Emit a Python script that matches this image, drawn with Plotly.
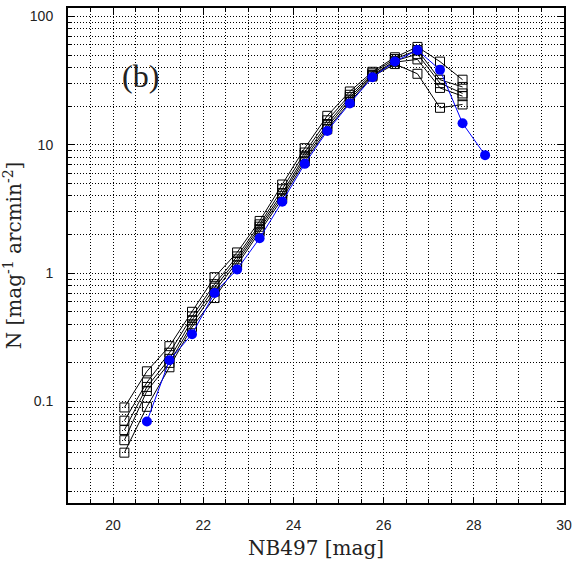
import plotly.graph_objects as go

# magnitude bins (bin centres)
mag_black = [20.25, 20.75, 21.25, 21.75, 22.25, 22.75, 23.25, 23.75,
             24.25, 24.75, 25.25, 25.75, 26.25, 26.75, 27.25, 27.75]
mag_blue = [20.75, 21.25, 21.75, 22.25, 22.75, 23.25, 23.75, 24.25,
            24.75, 25.25, 25.75, 26.25, 26.75, 27.25, 27.75, 28.25]

# black open-square series (individual fields)
field_a = [0.090, 0.172, 0.27, 0.50, 0.93, 1.45, 2.55, 4.9, 9.4, 16.8, 26.0, 37.0, 48.0, 57.8, 44.4, 32.1]
field_b = [0.071, 0.141, 0.24, 0.46, 0.82, 1.35, 2.40, 4.5, 8.7, 15.5, 24.5, 36.0, 46.5, 54.6, 32.1, 28.2]
field_c = [0.060, 0.130, 0.215, 0.43, 0.77, 1.28, 2.30, 4.2, 8.2, 14.5, 23.5, 35.0, 45.0, 50.8, 30.2, 25.1]
field_d = [0.050, 0.121, 0.20, 0.40, 0.72, 1.22, 2.20, 4.0, 7.8, 13.8, 22.5, 34.5, 44.0, 46.2, 27.7, 23.9]
field_e = [0.040, 0.091, 0.185, 0.38, 0.64, 1.15, 2.10, 3.8, 7.4, 13.2, 21.5, 34.0, 42.5, 35.7, 19.4, 20.6]
fields = [field_a, field_b, field_c, field_d, field_e]

# blue filled-circle series
blue_counts = [0.070, 0.21, 0.335, 0.70, 1.07, 1.87, 3.6, 7.1, 12.8, 21.0, 33.5, 44.5, 54.6, 38.3, 14.7, 8.3]

x_ticks = [20, 22, 24, 26, 28, 30]
y_ticks = [0.1, 1, 10, 100]
y_ticktext = ["0.1", "1", "10", "100"]

fig = go.Figure()

for f in fields:
    fig.add_trace(go.Scatter(
        x=mag_black, y=f, mode="lines+markers",
        line=dict(color="black", width=1),
        marker=dict(symbol="square-open", size=9, color="black", line=dict(width=1)),
        showlegend=False,
    ))

fig.add_trace(go.Scatter(
    x=mag_blue, y=blue_counts, mode="lines+markers",
    line=dict(color="#0000ff", width=1),
    marker=dict(symbol="circle", size=10, color="#0000ff"),
    showlegend=False,
))

grid = dict(gridcolor="black", gridwidth=1, griddash="1px,2px")
serif = dict(family="DejaVu Serif", size=20, color="#222")

fig.update_layout(
    width=578, height=562,
    margin=dict(l=64, r=11, t=6, b=54),
    paper_bgcolor="white", plot_bgcolor="white",
    font=dict(family="Liberation Sans", size=14, color="#222"),
    xaxis=dict(
        range=[19, 30], tickvals=x_ticks, showgrid=True, **grid,
        ticks="inside", ticklen=6, tickcolor="black",
        showline=True, linecolor="black", linewidth=2, mirror="allticks",
        ticklabelstandoff=8, zeroline=False,
        minor=dict(dtick=0.5, showgrid=True, ticks="inside", ticklen=4,
                   tickcolor="black", **grid),
        title=dict(text="NB497 [mag]", standoff=9, font=serif),
    ),
    yaxis=dict(
        type="log", range=[-1.79, 2.065], tickvals=y_ticks, ticktext=y_ticktext,
        showgrid=True, **grid,
        ticks="inside", ticklen=6, tickcolor="black",
        showline=True, linecolor="black", linewidth=2, mirror="allticks",
        ticklabelstandoff=10, zeroline=False,
        minor=dict(dtick="D1", showgrid=True, ticks="inside", ticklen=4,
                   tickcolor="black", **grid),
        title=dict(text="N [mag<sup>-1</sup> arcmin<sup>-2</sup>]", standoff=10, font=serif),
    ),
    annotations=[dict(
        x=0.147, y=0.863, xref="paper", yref="paper",
        xanchor="center", yanchor="middle",
        text="(b)", showarrow=False,
        font=dict(family="Liberation Serif", size=32, color="#222"),
    )],
)

# drop the default page margin so the figure sits at the window's corner
fig.write_html("out.html", config={"displayModeBar": False},
               post_script="document.body.style.margin='0';")
